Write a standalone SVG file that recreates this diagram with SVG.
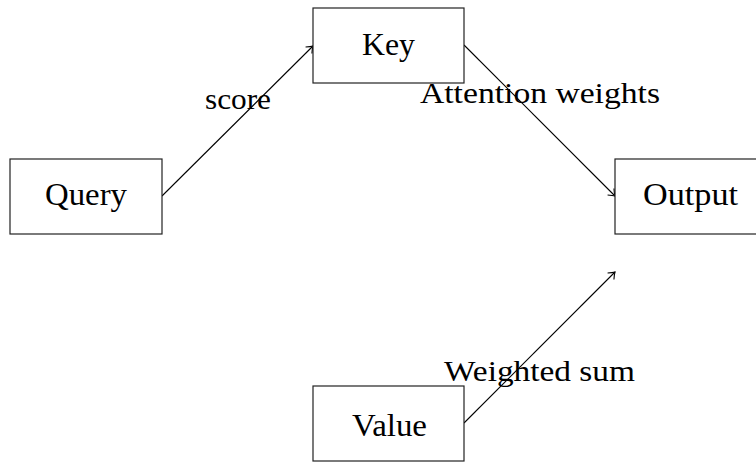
<svg xmlns="http://www.w3.org/2000/svg" width="756" height="464" viewBox="0 0 756 464">
<defs>
<style>
.box{fill:#fff;stroke:#222;stroke-width:1.2}
.lbl{font-family:"Liberation Serif","Times New Roman",serif;font-size:30px;fill:#000}
.nd{font-size:31px}
.ctr{text-anchor:middle}
.edge{fill:none;stroke:#000;stroke-width:1.1}
</style>
<marker id="arr" viewBox="-8 -6 10 12" markerWidth="10" markerHeight="12" refX="0" refY="0" orient="auto" markerUnits="userSpaceOnUse">
<path d="M-6,-4.5 Q-2,-1 0,0 Q-2,1 -6,4.5" fill="none" stroke="#000" stroke-width="1.1"/>
</marker>
</defs>
<rect width="756" height="464" fill="#fff"/>
<g id="connectors">
<line class="edge" x1="162" y1="196" x2="313" y2="46" marker-end="url(#arr)"/>
<line class="edge" x1="464" y1="45" x2="615" y2="196" marker-end="url(#arr)"/>
<line class="edge" x1="464" y1="423" x2="615" y2="272" marker-end="url(#arr)"/>
<text class="lbl" x="205" y="109" textLength="66" lengthAdjust="spacingAndGlyphs">score</text>
<text class="lbl" x="420" y="103" textLength="240" lengthAdjust="spacingAndGlyphs">Attention weights</text>
<text class="lbl" x="444" y="381" textLength="191" lengthAdjust="spacingAndGlyphs">Weighted sum</text>
</g>
<g id="query">
<rect class="box" x="10" y="159" width="152" height="75"/>
<text class="lbl nd" x="45" y="205" textLength="82" lengthAdjust="spacingAndGlyphs">Query</text>
</g>
<g id="key">
<rect class="box" x="313" y="8" width="151" height="75"/>
<text class="lbl nd" x="362" y="55" textLength="53" lengthAdjust="spacingAndGlyphs">Key</text>
</g>
<g id="value">
<rect class="box" x="313" y="386" width="151" height="75"/>
<text class="lbl nd" x="352" y="436" textLength="75" lengthAdjust="spacingAndGlyphs">Value</text>
</g>
<g id="output">
<rect class="box" x="615" y="159" width="152" height="75"/>
<text class="lbl nd" x="643" y="205" textLength="95" lengthAdjust="spacingAndGlyphs">Output</text>
</g>
</svg>
